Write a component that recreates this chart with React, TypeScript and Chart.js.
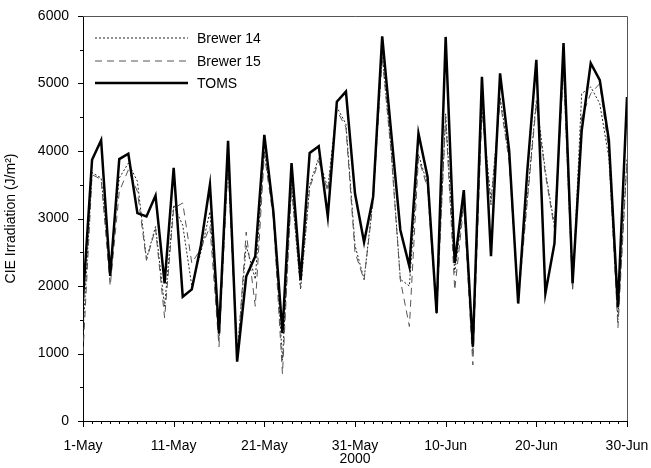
import React, { useEffect, useRef } from "react";
import { Chart, registerables } from "chart.js";

Chart.register(...registerables);

const dayIndex: number[] = Array.from({ length: 61 }, (_, i) => i);
const xTickLabels = ["1-May", "11-May", "21-May", "31-May", "10-Jun", "20-Jun", "30-Jun"];

const toms = [
  1800, 3870, 4160, 2150, 3880, 3960, 3080, 3030, 3340, 2040,
  3750, 1840, 1950, 2600, 3500, 1300, 4150, 880, 2140, 2440,
  4240, 3100, 1300, 3820, 2090, 3970, 4070, 3030, 4730, 4880,
  3370, 2650, 3320, 5700, 4260, 2830, 2290, 4260, 3620, 1600,
  5690, 2340, 3420, 1100, 5100, 2440, 5150, 4010, 1740, 3700,
  5350, 1890, 2630, 5600, 2040, 4300, 5300, 5050, 4160, 1690,
  4800,
];

const brewer14 = [
  1300, 3680, 3600, 2300, 3600, 3820, 3550, 2400, 2880, 1700,
  3200, 2900, 2000, 2500, 3100, 1200, 3850, 1000, 2600, 2100,
  4000, 3100, 900, 3500, 1950, 3500, 3900, 3450, 4650, 4400,
  2600, 2100, 3300, 5450, 4000, 2100, 2000, 3950, 3500, 1600,
  4550, 2200, 3250, 1000, 4650, 3250, 4800, 3900, 1800, 3300,
  4750, 3700, 2900, 5250, 1950, 4850, 4950, 4700, 3900, 1500,
  3900,
];

const brewer15 = [
  1000, 3650, 3580, 2000, 3400, 3720, 3400, 2380, 2850, 1530,
  3150, 3230, 2340, 2550, 2880, 1100, 3800, 900, 2800, 1700,
  3950, 3000, 700, 3450, 1970, 3450, 3850, 3400, 4600, 4350,
  2500, 2090, 3250, 5400, 3950, 2090, 1400, 3900, 3450, 1550,
  4500, 1940, 3200, 830, 4600, 3200, 4750, 3850, 1750, 3250,
  4700, 3650, 2850, 5200, 1940, 4500, 4850, 5000, 4000, 1380,
  3850,
];

const FONT = "'Liberation Sans', Arial, Helvetica, sans-serif";

const ticksAndFramePlugin = {
  id: "ticksAndFrame",
  afterDraw(chart: any) {
    const { ctx, chartArea, scales } = chart;
    const { left, right, top, bottom } = chartArea;
    const xs = scales.x;
    const ys = scales.y;
    ctx.save();
    ctx.strokeStyle = "#555";
    ctx.lineWidth = 1;
    ctx.beginPath();
    ctx.moveTo(left, top + 0.5);
    ctx.lineTo(right + 0.5, top + 0.5);
    ctx.lineTo(right + 0.5, bottom);
    ctx.stroke();
    ctx.strokeStyle = "#000";
    ctx.beginPath();
    for (let v = 0; v <= 6000; v += 500) {
      const y = Math.round(ys.getPixelForValue(v)) + 0.5;
      const len = v % 1000 === 0 ? 5 : 3;
      ctx.moveTo(left - len, y);
      ctx.lineTo(left, y);
    }
    for (let d = 0; d <= 60; d++) {
      const x = Math.round(xs.getPixelForValue(d)) + 0.5;
      const len = d % 10 === 0 ? 6 : 3;
      ctx.moveTo(x, bottom);
      ctx.lineTo(x, bottom + len);
    }
    ctx.stroke();
    ctx.restore();
  },
  afterDatasetsDraw(chart: any) {
    const { ctx, chartArea } = chart;
    const x0 = chartArea.left + 12;
    const x1 = chartArea.left + 105;
    const tx = chartArea.left + 114;
    const rows = [
      { label: "Brewer 14", dash: [2, 2], width: 1, color: "#222", dy: 22 },
      { label: "Brewer 15", dash: [7, 5], width: 1, color: "#555", dy: 45 },
      { label: "TOMS", dash: [], width: 2.5, color: "#000", dy: 67 },
    ];
    ctx.save();
    ctx.font = `14px ${FONT}`;
    ctx.textBaseline = "middle";
    ctx.textAlign = "left";
    for (const r of rows) {
      const y = chartArea.top + r.dy;
      ctx.strokeStyle = r.color;
      ctx.lineWidth = r.width;
      ctx.setLineDash(r.dash);
      ctx.beginPath();
      ctx.moveTo(x0, y);
      ctx.lineTo(x1, y);
      ctx.stroke();
      ctx.setLineDash([]);
      ctx.fillStyle = "#000";
      ctx.fillText(r.label, tx, y + 1);
    }
    ctx.restore();
  },
};

export default function App() {
  const canvasRef = useRef<HTMLCanvasElement | null>(null);

  useEffect(() => {
    if (!canvasRef.current) return;
    const chart = new Chart(canvasRef.current, {
      type: "line",
      data: {
        labels: dayIndex,
        datasets: [
          {
            label: "TOMS",
            data: dayIndex.map((d) => ({ x: d, y: toms[d] })),
            borderColor: "#000",
            borderWidth: 2.5,
            pointRadius: 0,
            tension: 0,
            order: 0,
          },
          {
            label: "Brewer 14",
            data: dayIndex.map((d) => ({ x: d, y: brewer14[d] })),
            borderColor: "#222",
            borderWidth: 1,
            borderDash: [2, 2],
            pointRadius: 0,
            tension: 0,
            order: 2,
          },
          {
            label: "Brewer 15",
            data: dayIndex.map((d) => ({ x: d, y: brewer15[d] })),
            borderColor: "#555",
            borderWidth: 1,
            borderDash: [7, 5],
            pointRadius: 0,
            tension: 0,
            order: 1,
          },
        ],
      },
      options: {
        animation: false,
        responsive: false,
        maintainAspectRatio: false,
        layout: { padding: { top: 16, right: 24, left: 0, bottom: 0 } },
        plugins: {
          legend: { display: false },
          tooltip: { enabled: false },
        },
        scales: {
          x: {
            type: "linear",
            min: 0,
            max: 60,
            grid: { display: false, drawTicks: false },
            border: { display: true, color: "#000", width: 1 },
            ticks: {
              stepSize: 10,
              autoSkip: false,
              maxRotation: 0,
              padding: 17,
              color: "#000",
              font: { family: FONT, size: 14 },
              callback: (v: any) => xTickLabels[Math.round(Number(v) / 10)] ?? "",
            },
            title: {
              display: true,
              text: "2000",
              color: "#000",
              font: { family: FONT, size: 14 },
              padding: { top: 0, bottom: 0 },
            },
            afterFit: (scale: any) => {
              scale.height = 47;
              scale.paddingLeft = 0;
              scale.paddingRight = 0;
            },
          },
          y: {
            min: 0,
            max: 6000,
            grid: { display: false, drawTicks: false },
            border: { display: true, color: "#000", width: 1 },
            ticks: {
              stepSize: 1000,
              padding: 14,
              color: "#000",
              font: { family: FONT, size: 14 },
              callback: (v: any) => String(v),
            },
            title: {
              display: true,
              text: "CIE Irradiation (J/m²)",
              color: "#000",
              font: { family: FONT, size: 14 },
              padding: { top: 3, bottom: 0 },
            },
            afterFit: (scale: any) => {
              scale.width = 83;
              scale.paddingTop = 0;
              scale.paddingBottom = 0;
            },
          },
        },
      },
      plugins: [ticksAndFramePlugin],
    });
    return () => chart.destroy();
  }, []);

  return (
    <div style={{ position: "fixed", left: 0, top: 0, width: 651, height: 468, background: "#fff" }}>
      <canvas ref={canvasRef} width={651} height={468} style={{ width: 651, height: 468 }} />
    </div>
  );
}
